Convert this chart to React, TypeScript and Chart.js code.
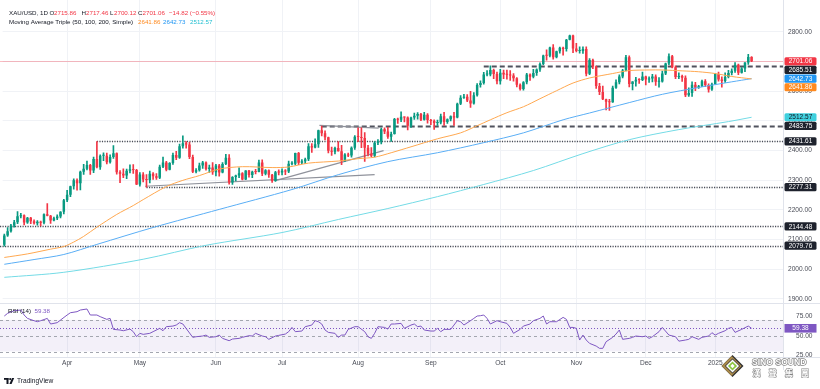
import React, { useEffect, useRef } from 'react';
import { Chart, registerables } from 'chart.js';
Chart.register(...registerables);

const FONT = "'Liberation Sans', Arial, sans-serif";
const N_SLOTS = 236;

// ---- Daily candles XAU/USD, 4 Mar 2024 -> 17 Jan 2025 ----
const opens = [
  2083,2114,2128,2148,2159,2179,2182,2158,2174,2162,2155,2160,2157,2186,2181,2165,2172,2178,2194,
  2233,2251,2280,2300,2290,2329,2339,2352,2333,2372,2344,2383,2383,2361,2379,2391,2327,2322,2316,2332,2337,2335,
  2286,2320,2303,2301,2322,2314,2309,2346,2360,2336,2358,2385,2376,2415,2425,2421,2379,2329,2334,2350,2360,2338,2343,
  2327,2350,2326,2355,2376,2293,2311,2316,2324,2303,2333,2318,2329,2328,2360,2322,2334,2319,2298,2327,
  2326,2332,2330,2356,2356,2392,2359,2364,2371,2415,2411,2422,2469,2459,2445,2400,2396,2409,2398,2364,2387,2384,2410,
  2447,2446,2443,2410,2390,2383,2427,2431,2472,2465,2447,2456,2507,2504,2514,2512,2484,2512,2518,2524,2504,2521,
  2503,2500,2493,2495,2516,2497,2506,2516,2512,2558,2578,2582,2569,2559,2587,2621,2628,2657,2657,2672,2658,
  2634,2663,2657,2656,2653,2644,2622,2608,2631,2657,2649,2662,2674,2692,2721,2720,2748,2715,2735,2747,2743,2774,2788,
  2744,2736,2736,2743,2659,2706,2684,2618,2598,2573,2565,2563,2612,2631,2650,2670,2715,2625,2633,2639,2638,
  2650,2640,2643,2650,2632,2633,2660,2694,2718,2681,2648,2652,2646,2587,2594,2622,2612,2617,2634,2621,2606,
  2624,2658,2640,2635,2648,2662,2669,2690,2663,2677,2697,2715.86,
];
const highs = [
  2119,2141,2152,2165,2195,2189,2184,2175,2175,2167,2164,2163,2187,2222,2182,2176,2184,2195,2236,
  2266,2281,2305,2305,2331,2354,2365,2354,2378,2431,2386,2393,2392,2386,2417,2393,2333,2339,2338,2352,2353,2337,
  2326,2326,2319,2331,2326,2323,2351,2378,2364,2360,2392,2398,2422,2450,2431,2428,2385,2340,2358,2364,2362,2351,2360,
  2354,2354,2360,2388,2387,2313,2318,2342,2326,2333,2334,2331,2337,2368,2369,2336,2335,2320,2330,2335,
  2339,2336,2365,2363,2392,2394,2370,2375,2424,2424,2440,2469,2483,2467,2446,2412,2412,2431,2418,2390,2392,2413,2451,
  2477,2477,2461,2418,2410,2431,2437,2476,2477,2479,2463,2509,2510,2531,2514,2514,2513,2527,2528,2526,2529,2525,
  2506,2504,2503,2523,2529,2507,2517,2529,2560,2586,2590,2589,2600,2596,2626,2635,2664,2670,2686,2675,2665,
  2674,2672,2672,2670,2660,2646,2625,2633,2661,2659,2674,2676,2696,2722,2740,2749,2758,2736,2749,2749,2775,2790,2790,
  2762,2750,2750,2750,2710,2709,2685,2627,2618,2574,2573,2618,2639,2656,2674,2721,2720,2633,2647,2643,2665,
  2651,2649,2657,2656,2646,2668,2695,2726,2721,2686,2662,2655,2652,2612,2632,2630,2620,2638,2640,2625,2628,
  2660,2665,2649,2662,2671,2676,2697,2692,2680,2697,2725,2717.46,
];
const lows = [
  2078,2111,2125,2142,2154,2173,2150,2155,2154,2152,2149,2146,2153,2180,2155,2163,2167,2173,2187,
  2228,2245,2270,2267,2268,2320,2335,2320,2326,2342,2337,2366,2355,2358,2374,2321,2292,2309,2306,2325,2323,2285,
  2280,2295,2277,2291,2303,2303,2306,2343,2332,2335,2354,2370,2374,2408,2408,2373,2326,2325,2331,2340,2334,2327,2320,
  2315,2314,2325,2353,2287,2286,2298,2309,2301,2302,2311,2309,2322,2328,2316,2318,2310,2293,2296,2318,
  2318,2319,2326,2352,2352,2353,2356,2356,2366,2394,2409,2411,2450,2436,2392,2384,2389,2398,2353,2364,2380,2378,2404,
  2430,2410,2364,2382,2380,2379,2420,2423,2457,2441,2431,2456,2492,2498,2497,2470,2478,2505,2506,2501,2503,2493,
  2488,2472,2485,2490,2485,2492,2500,2485,2510,2555,2576,2565,2546,2557,2584,2614,2624,2652,2652,2643,2625,
  2624,2643,2641,2637,2634,2615,2604,2604,2625,2637,2645,2654,2667,2690,2705,2716,2708,2713,2729,2722,2735,2773,2730,
  2733,2729,2728,2652,2656,2676,2610,2589,2572,2537,2536,2563,2610,2625,2645,2669,2615,2605,2617,2627,2636,
  2622,2630,2632,2620,2614,2631,2656,2690,2679,2643,2643,2633,2582,2583,2583,2602,2610,2616,2616,2597,2603,
  2624,2634,2614,2630,2645,2655,2664,2656,2661,2666,2691,2700.12,
];
const closes = [
  2114,2128,2148,2159,2179,2182,2158,2174,2162,2155,2160,2157,2186,2181,2165,2172,2178,2194,2233,
  2251,2280,2300,2290,2329,2339,2352,2333,2372,2344,2383,2383,2361,2379,2391,2327,2322,2316,2332,2337,2335,2286,
  2320,2303,2301,2322,2314,2309,2346,2360,2336,2358,2385,2376,2415,2425,2421,2379,2329,2334,2350,2360,2338,2343,2327,
  2350,2326,2355,2376,2293,2311,2316,2324,2303,2333,2318,2329,2328,2360,2322,2334,2319,2298,2327,2326,
  2332,2330,2356,2356,2392,2359,2364,2371,2415,2411,2422,2469,2459,2445,2400,2396,2409,2398,2364,2387,2384,2410,2447,
  2446,2443,2410,2390,2383,2427,2431,2472,2465,2447,2456,2507,2504,2514,2512,2484,2512,2518,2524,2504,2521,2503,
  2500,2493,2495,2516,2497,2506,2516,2512,2558,2578,2582,2569,2559,2587,2621,2628,2657,2657,2672,2658,2634,
  2663,2657,2656,2653,2644,2622,2608,2631,2657,2649,2662,2674,2692,2721,2720,2748,2715,2735,2747,2743,2774,2788,2744,
  2736,2736,2743,2659,2706,2684,2618,2598,2573,2565,2563,2612,2631,2650,2670,2715,2625,2633,2639,2638,2650,
  2640,2643,2650,2632,2633,2660,2694,2718,2681,2648,2652,2646,2587,2594,2622,2612,2617,2634,2621,2606,2624,
  2658,2640,2635,2648,2662,2669,2690,2663,2677,2697,2715.88,2701.06,
];

// ---- time axis ----
const monthLabels = ['Apr', 'May', 'Jun', 'Jul', 'Aug', 'Sep', 'Oct', 'Nov', 'Dec', '2025'];
const monthStartIdx = [19, 41, 64, 84, 107, 129, 150, 173, 194, 215];

// ---- Moving Average Triple (50, 100, 200) ----
const sma50Idx = [0, 7, 14, 18, 21, 24, 28, 34, 39, 42, 49, 54, 59, 65, 72, 81, 86, 92, 101, 107, 112, 117, 123, 131, 138, 143, 147, 152, 157, 162, 167, 172, 177, 184, 189, 195, 199, 205, 210, 215, 220, 226];
const sma50Val = [2040, 2052, 2068, 2077, 2092, 2111, 2142, 2185, 2215, 2235, 2279, 2300, 2316, 2338, 2346, 2343, 2345, 2358, 2365, 2373, 2378, 2393, 2413, 2440, 2460, 2484, 2504, 2528, 2548, 2575, 2602, 2628, 2645, 2660, 2670, 2672, 2672, 2669, 2666, 2660, 2650, 2641.86];
const sma100Idx = [0, 9, 18, 28, 45, 65, 87, 101, 116, 131, 145, 157, 169, 177, 189, 199, 210, 220, 226];
const sma100Val = [2017, 2033, 2050, 2084, 2141, 2202, 2269, 2319, 2363, 2393, 2427, 2460, 2504, 2527, 2562, 2590, 2613, 2632, 2642.73];
const sma200Idx = [0, 18, 42, 61, 84, 101, 116, 131, 145, 160, 175, 189, 204, 219, 226];
const sma200Val = [1973, 1990, 2034, 2081, 2124, 2168, 2205, 2245, 2286, 2333, 2390, 2437, 2471, 2498, 2512.57];

// ---- RSI (14) ----
const rsiIdx = [0,1,3,5,6,7,9,10,11,13,14,16,17,19,20,22,23,25,26,28,29,31,32,33,35,36,38,39,40,41,42,44,45,47,48,49,51,52,53,54,57,58,60,61,62,64,65,66,68,69,71,72,74,75,76,78,79,80,82,83,85,86,87,88,90,91,93,94,95,96,97,98,100,101,102,103,104,106,107,109,110,111,112,113,115,116,117,118,120,121,123,124,125,126,127,129,130,131,132,133,135,136,137,138,139,141,142,143,144,145,146,147,149,150,152,153,154,156,157,159,160,162,163,164,165,167,169,170,171,172,173,174,175,176,177,179,180,181,182,184,185,186,187,189,190,191,193,194,195,196,198,199,201,203,204,206,207,208,210,211,213,214,215,216,218,219,220,221,223,225,226];
const rsiVal = [74.9,78.3,81.6,82.5,76.2,71.9,69.0,67.7,69.0,71.9,64.8,66.5,69.8,76.2,79.1,80.4,82.5,83.8,76.2,76.2,74.1,70.7,71.9,58.0,57.2,56.3,58.4,55.1,48.7,53.0,51.7,53.0,55.1,59.3,56.3,61.4,62.2,63.5,66.5,64.8,47.9,48.7,49.6,50.8,47.9,48.7,50.8,46.6,43.7,45.8,46.6,47.9,50.0,49.6,53.0,49.6,48.7,45.4,49.6,50.4,52.1,55.1,60.5,55.1,55.9,61.4,63.5,69.0,67.7,64.8,57.2,54.2,53.0,47.9,50.8,50.8,58.0,61.4,61.4,55.1,48.7,46.6,53.0,61.4,60.5,58.4,64.8,64.8,65.6,59.3,63.5,64.8,61.4,62.2,57.2,55.9,55.9,59.3,55.1,58.0,58.0,63.5,69.0,67.7,63.5,69.0,71.9,74.9,75.3,76.2,71.9,64.8,69.0,67.7,65.6,60.5,53.0,58.0,62.2,64.8,69.0,71.9,74.9,64.8,67.7,67.7,73.2,70.7,60.5,60.5,59.3,44.5,50.8,44.5,40.3,36.9,34.0,34.0,42.4,47.9,52.1,57.2,45.4,46.6,47.9,49.6,48.7,49.6,46.6,48.7,55.1,60.5,50.8,48.7,43.1,44.5,45.4,48.7,45.4,47.9,49.6,53.8,50.8,53.0,56.3,59.3,60.5,54.2,58.0,62.2,59.38];

// ---- axis ticks ----
const priceTicks = [1900, 2000, 2100, 2200, 2300, 2400, 2500, 2600, 2700, 2800];
const rsiTicks = [25, 50, 75];
const rsiBands = [70, 50, 30];

// ---- drawn levels (horizontal rays) ----
const levelValues = [2685.51, 2483.75, 2431.61, 2277.31, 2144.48, 2079.76];
const levelStartIdx = [145, 96, 28, 43, -1, -1];
const levelDashed = [true, true, false, false, false, false];

// ---- trend lines ----
const trendX1 = [42.6, 82.0, 95.3];
const trendY1 = [2280, 2299, 2485];
const trendX2 = [112.0, 114.7, 113.2];
const trendY2 = [2319, 2400, 2476];

// ---- right-axis value tags ----
const tagValues = [2701.06, 2685.51, 2642.73, 2641.86, 2512.57, 2483.75, 2431.61, 2277.31, 2144.48, 2079.76];
const tagBg = ['#f23645', '#1e222d', '#2196f3', '#ff8a1f', '#3fd0de', '#1e222d', '#1e222d', '#1e222d', '#1e222d', '#1e222d'];
const tagFg = ['#fff', '#fff', '#fff', '#fff', '#131722', '#fff', '#fff', '#fff', '#fff', '#fff'];
const lastRsi = 59.38;
const lastClose = 2701.06;

const GREEN = '#089981';
const RED = '#f23645';

function sparse(idx: number[], val: number[]) {
  const arr: (number | null)[] = new Array(N_SLOTS).fill(null);
  idx.forEach((i, k) => { arr[i] = val[k]; });
  return arr;
}

export default function App() {
  const ref = useRef<HTMLCanvasElement>(null);

  useEffect(() => {
    document.body.style.margin = '0';
    const canvas = ref.current!;
    const labels: string[] = new Array(N_SLOTS).fill('');
    monthStartIdx.forEach((i, k) => { labels[i] = monthLabels[k]; });

    const bodies: ([number, number] | null)[] = new Array(N_SLOTS).fill(null);
    const wicks: ([number, number] | null)[] = new Array(N_SLOTS).fill(null);
    const colors: string[] = new Array(N_SLOTS).fill(GREEN);
    closes.forEach((c, i) => {
      bodies[i] = [opens[i], c];
      wicks[i] = [lows[i], highs[i]];
      colors[i] = c >= opens[i] ? GREEN : RED;
    });

    const tickFont = { size: 6.6, family: FONT };

    const overlay = {
      id: 'overlay',
      beforeDatasetsDraw(chart: any) {
        const { ctx, chartArea: ca, scales } = chart;
        const x = scales.x, y = scales.y, r = scales.y2;
        ctx.save();
        // RSI band
        const y70 = r.getPixelForValue(70), y30 = r.getPixelForValue(30);
        ctx.fillStyle = 'rgba(126,87,194,0.09)';
        ctx.fillRect(0, y70, ca.right, y30 - y70);
        ctx.strokeStyle = '#a3a6af';
        ctx.lineWidth = 1;
        ctx.setLineDash([3, 3]);
        rsiBands.forEach((b) => {
          const yy = Math.round(r.getPixelForValue(b)) + 0.5;
          ctx.beginPath(); ctx.moveTo(0, yy); ctx.lineTo(ca.right, yy); ctx.stroke();
        });
        // RSI last value dotted
        ctx.strokeStyle = '#7e57c2';
        ctx.setLineDash([1, 2]);
        const yr = Math.round(r.getPixelForValue(lastRsi)) + 0.5;
        ctx.beginPath(); ctx.moveTo(0, yr); ctx.lineTo(ca.right, yr); ctx.stroke();
        // current price line
        ctx.setLineDash([]);
        ctx.strokeStyle = 'rgba(242,54,69,0.32)';
        const yc = Math.round(y.getPixelForValue(lastClose)) + 0.5;
        ctx.beginPath(); ctx.moveTo(0, yc); ctx.lineTo(ca.right, yc); ctx.stroke();
        // horizontal levels
        levelValues.forEach((v, k) => {
          const yy = Math.round(y.getPixelForValue(v)) + 0.5;
          const x0 = levelStartIdx[k] < 0 ? 0 : x.getPixelForValue(levelStartIdx[k]);
          if (levelDashed[k]) {
            ctx.setLineDash([5, 3]);
            ctx.lineWidth = 1.8;
            ctx.strokeStyle = '#50535e';
          } else {
            ctx.setLineDash([1.2, 1.3]);
            ctx.lineWidth = 1.3;
            ctx.strokeStyle = '#4a4d57';
          }
          ctx.beginPath(); ctx.moveTo(x0, yy); ctx.lineTo(ca.right, yy); ctx.stroke();
        });
        // trend lines
        ctx.setLineDash([]);
        ctx.lineWidth = 1.2;
        ctx.strokeStyle = '#8f929b';
        trendX1.forEach((x1, k) => {
          ctx.beginPath();
          ctx.moveTo(x.getPixelForValue(x1), y.getPixelForValue(trendY1[k]));
          ctx.lineTo(x.getPixelForValue(trendX2[k]), y.getPixelForValue(trendY2[k]));
          ctx.stroke();
        });
        ctx.restore();
      },
      afterDraw(chart: any) {
        const { ctx, chartArea: ca, scales } = chart;
        const y = scales.y, r = scales.y2;
        ctx.save();
        // separators
        ctx.strokeStyle = '#e0e3eb';
        ctx.lineWidth = 1;
        const sepY = Math.round(y.bottom) + 0.5;
        ctx.beginPath(); ctx.moveTo(0, sepY); ctx.lineTo(820, sepY); ctx.stroke();
        const botY = Math.round(ca.bottom) + 0.5;
        ctx.beginPath(); ctx.moveTo(0, botY); ctx.lineTo(820, botY); ctx.stroke();
        const rx = Math.round(ca.right) + 0.5;
        ctx.beginPath(); ctx.moveTo(rx, 0); ctx.lineTo(rx, ca.bottom + 13); ctx.stroke();

        // right axis tags
        ctx.font = `6.5px ${FONT}`;
        ctx.textAlign = 'center';
        ctx.textBaseline = 'middle';
        const H = 8.6;
        let prev = -100;
        tagValues.forEach((v, k) => {
          let yy = y.getPixelForValue(v);
          if (yy < prev + H) yy = prev + H;
          prev = yy;
          ctx.fillStyle = tagBg[k];
          ctx.beginPath();
          (ctx as any).roundRect ? (ctx as any).roundRect(ca.right + 1.5, yy - H / 2 + 0.2, 32, H - 0.4, 1.5) : ctx.rect(ca.right + 1.5, yy - H / 2, 32, H);
          ctx.fill();
          ctx.fillStyle = tagFg[k];
          ctx.fillText(v.toFixed(2), ca.right + 17.5, yy + 0.3);
        });
        // RSI tag
        const yr = r.getPixelForValue(lastRsi);
        ctx.fillStyle = '#7e57c2';
        ctx.fillRect(ca.right + 1.5, yr - H / 2, 32, H);
        ctx.fillStyle = '#fff';
        ctx.fillText(lastRsi.toFixed(2), ca.right + 17.5, yr + 0.3);

        // header legend
        ctx.textAlign = 'left';
        ctx.font = `6.2px ${FONT}`;
        const dark = '#131722';
        const hdr: [number, number, string, string][] = [
          [9, 13, 'XAU/USD, 1D', dark],
          [49.5, 13, 'O', dark], [54, 13, '2715.86', RED],
          [81.5, 13, 'H', dark], [86, 13, '2717.46', RED],
          [110, 13, 'L', dark], [114, 13, '2700.12', RED],
          [138, 13, 'C', dark], [142.5, 13, '2701.06', RED],
          [169, 13, '\u221214.82 (\u22120.55%)', RED],
          [9, 22, 'Moving Average Triple (50, 100, 200, Simple)', dark],
          [138, 22, '2641.86', '#ff8a1f'], [163, 22, '2642.73', '#2196f3'], [190, 22, '2512.57', '#22bfd1'],
        ];
        hdr.forEach(([hx, hy, t, c]) => { ctx.fillStyle = c; ctx.fillText(t, hx, hy); });
        // RSI legend
        ctx.fillStyle = dark;
        ctx.fillText('RSI (14)', 8, 311.5);
        ctx.fillStyle = '#7e57c2';
        ctx.fillText('59.38', 34.5, 311.5);

        // TradingView footer logo
        ctx.fillStyle = '#131722';
        ctx.fillRect(4, 378, 4.5, 1.8);
        ctx.fillRect(6.5, 378, 2, 6);
        ctx.beginPath(); ctx.arc(10.2, 379.1, 1.05, 0, Math.PI * 2); ctx.fill();
        ctx.beginPath(); ctx.moveTo(12, 378); ctx.lineTo(14.2, 378); ctx.lineTo(11.6, 384); ctx.lineTo(9.4, 384); ctx.closePath(); ctx.fill();
        ctx.font = `6.6px ${FONT}`;
        ctx.fillText('TradingView', 17, 381.5);

        // watermark logo
        const cx = 732.5, cy = 366;
        const diamond = (s: number, fill: string, dx = 0) => {
          ctx.beginPath();
          ctx.moveTo(cx + dx, cy - s); ctx.lineTo(cx + dx + s, cy); ctx.lineTo(cx + dx, cy + s); ctx.lineTo(cx + dx - s, cy); ctx.closePath();
          ctx.fillStyle = fill; ctx.fill();
        };
        diamond(11, '#2e2e2e');
        diamond(10, '#a8894a', -0.8);
        diamond(7.6, '#3a3a3a');
        diamond(6.6, '#ffffff');
        diamond(4.6, '#8cc63f');
        diamond(2.2, '#ffffff');
        ctx.lineJoin = 'round';
        ctx.font = `bold 8.6px ${FONT}`;
        ctx.strokeStyle = 'rgba(110,110,110,0.85)';
        ctx.lineWidth = 1.3;
        ctx.strokeText('SINO SOUND', 752, 362.5);
        ctx.fillStyle = '#ffffff';
        ctx.fillText('SINO SOUND', 752, 362.5);
        ctx.font = `bold 8px 'Noto Sans CJK TC', 'Noto Sans CJK SC', sans-serif`;
        ctx.lineWidth = 1.1;
        ['漢', '聲', '集', '團'].forEach((ch, k) => {
          const tx = 752.5 + k * 16.2;
          ctx.strokeText(ch, tx, 373);
          ctx.fillText(ch, tx, 373);
        });
        ctx.restore();
      },
    };

    const chart = new Chart(canvas, {
      type: 'bar',
      data: {
        labels,
        datasets: [
          { type: 'line', data: sparse(sma50Idx, sma50Val), yAxisID: 'y', borderColor: '#ffa850', borderWidth: 1, pointRadius: 0, spanGaps: true, tension: 0.3, order: 0 } as any,
          { type: 'line', data: sparse(sma100Idx, sma100Val), yAxisID: 'y', borderColor: '#5aaef5', borderWidth: 1, pointRadius: 0, spanGaps: true, tension: 0.3, order: 0 } as any,
          { type: 'line', data: sparse(sma200Idx, sma200Val), yAxisID: 'y', borderColor: '#74dbe6', borderWidth: 1, pointRadius: 0, spanGaps: true, tension: 0.3, order: 0 } as any,
          { type: 'line', data: sparse(rsiIdx, rsiVal), yAxisID: 'y2', borderColor: '#7e57c2', borderWidth: 1, pointRadius: 0, spanGaps: true, tension: 0, order: 0 } as any,
          { type: 'bar', data: wicks as any, yAxisID: 'y', backgroundColor: colors, barThickness: 1, grouped: false, order: 2 } as any,
          { type: 'bar', data: bodies as any, yAxisID: 'y', backgroundColor: colors, barPercentage: 0.75, categoryPercentage: 1, grouped: false, minBarLength: 1, order: 1 } as any,
        ],
      },
      options: {
        animation: false,
        responsive: false,
        maintainAspectRatio: false,
        devicePixelRatio: 1,
        events: [],
        layout: { padding: { left: 2.65, right: 0, top: 0, bottom: 19 } },
        plugins: { legend: { display: false }, tooltip: { enabled: false } },
        scales: {
          x: {
            type: 'category',
            offset: true,
            grid: { offset: false, color: '#f0f2f6', drawTicks: false },
            border: { display: false },
            afterBuildTicks: (s: any) => { s.ticks = monthStartIdx.map((v) => ({ value: v })); },
            afterFit: (s: any) => { s.height = 13; s.paddingLeft = 0; s.paddingRight = 0; },
            ticks: { autoSkip: false, maxRotation: 0, minRotation: 0, padding: 2, color: '#4a4d57', font: tickFont },
          },
          y: {
            type: 'linear',
            position: 'right',
            stack: 'panes',
            stackWeight: 303,
            min: 1886.5,
            max: 2907.86,
            afterBuildTicks: (s: any) => { s.ticks = priceTicks.map((v) => ({ value: v })); },
            afterFit: (s: any) => { s.width = 37; s.paddingTop = 0; s.paddingBottom = 0; },
            grid: { color: '#f0f2f6', drawTicks: false },
            border: { display: false },
            ticks: { padding: 5, color: '#4a4d57', font: tickFont, callback: (v: any) => Number(v).toFixed(2) },
          },
          y2: {
            type: 'linear',
            position: 'right',
            stack: 'panes',
            stackWeight: 54,
            min: 23.04,
            max: 91.39,
            afterBuildTicks: (s: any) => { s.ticks = rsiTicks.map((v) => ({ value: v })); },
            afterFit: (s: any) => { s.width = 37; s.paddingTop = 0; s.paddingBottom = 0; },
            grid: { display: false },
            border: { display: false },
            ticks: { padding: 5, color: '#4a4d57', font: tickFont, callback: (v: any) => Number(v).toFixed(2) },
          },
        },
      } as any,
      plugins: [overlay],
    });
    return () => chart.destroy();
  }, []);

  return (
    <div style={{ position: 'absolute', left: 0, top: 0, width: 820, height: 389, background: '#fff' }}>
      <canvas ref={ref} width={820} height={389} style={{ display: 'block' }} />
    </div>
  );
}
